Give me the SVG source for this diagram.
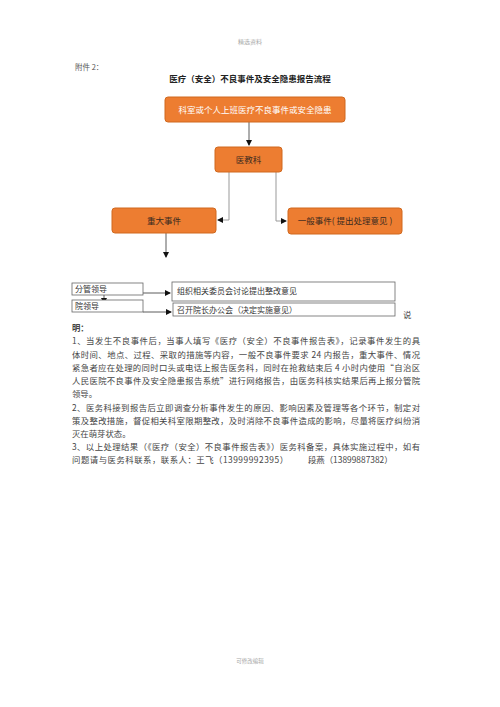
<svg xmlns="http://www.w3.org/2000/svg" width="500" height="707" viewBox="0 0 500 707">
<style>
.sans{font-family:"Noto Sans CJK SC","Liberation Sans",sans-serif;}
.box{fill:#ED7D31;stroke:#D0691F;stroke-width:1;}
.wbox{fill:#fff;stroke:#666;stroke-width:0.8;}
.bt{font-size:8.5px;fill:#3a2a1f;text-anchor:middle;}
.wt{font-size:8.5px;fill:#fff;text-anchor:middle;}
.lt{font-size:8px;fill:#333;}
.body{font-size:8.4px;fill:#444;}
.conn{fill:none;stroke:#999;stroke-width:1;}
.connk{fill:none;stroke:#333;stroke-width:0.8;}
</style>
<defs>
<marker id="ah" markerWidth="6" markerHeight="6" refX="5" refY="3" orient="auto" markerUnits="userSpaceOnUse">
<path d="M0,0 L6,3 L0,6 z" fill="#111"/>
</marker>
</defs>
<rect width="500" height="707" fill="#fff"/>
<text class="sans" x="250" y="44" font-size="6" fill="#aaa" text-anchor="middle">精选资料</text>
<text class="sans" x="75" y="70" font-size="7.5" fill="#555">附件 2：</text>
<text class="sans" x="250" y="82" font-size="8.5" font-weight="bold" fill="#222" text-anchor="middle">医疗（安全）不良事件及安全隐患报告流程</text>

<g id="connectors">
<path class="connk" d="M249,122 L249,145" marker-end="url(#ah)"/>
<path class="conn" d="M229,172 L229,220 L218,220" marker-end="url(#ah)"/>
<path class="conn" d="M276,172 L276,221 L286,221" marker-end="url(#ah)"/>
<path class="connk" d="M166,233 L166,257" marker-end="url(#ah)"/>
<path class="connk" d="M104,289 L104,303" marker-end="url(#ah)"/>
<path class="connk" d="M143,293 L170,293" marker-end="url(#ah)"/>
<path class="connk" d="M143,312 L171,312" marker-end="url(#ah)"/>
</g>

<g id="n-top">
<rect class="box" x="165" y="97" width="180" height="25" rx="3"/>
<text class="sans wt" x="255" y="112.5">科室或个人上班医疗不良事件或安全隐患</text>
</g>
<g id="n-yjk">
<rect class="box" x="215" y="147" width="67" height="25" rx="3"/>
<text class="sans bt" x="248.5" y="162.5">医教科</text>
</g>
<g id="n-major">
<rect class="box" x="112" y="208" width="104" height="25" rx="3"/>
<text class="sans bt" x="164" y="223.5">重大事件</text>
</g>
<g id="n-general">
<rect class="box" x="288" y="208" width="114" height="26" rx="3"/>
<text class="sans bt" x="345" y="224">一般事件( 提出处理意见 )</text>
</g>
<g id="n-fg">
<rect class="wbox" x="72" y="283" width="71" height="12"/>
<text class="sans lt" x="75" y="292">分管领导</text>
</g>
<g id="n-yl">
<rect class="wbox" x="72" y="300" width="71" height="12"/>
<text class="sans lt" x="75" y="309">院领导</text>
</g>
<g id="n-zz">
<rect class="wbox" x="172" y="282" width="223" height="19"/>
<text class="sans lt" x="177" y="294">组织相关委员会讨论提出整改意见</text>
</g>
<g id="n-zk">
<rect class="wbox" x="173" y="303" width="222" height="13"/>
<text class="sans lt" x="177" y="313">召开院长办公会（决定实施意见）</text>
</g>

<text class="sans body" x="403" y="318">说</text>
<text class="sans body" x="72" y="331" font-weight="bold" fill="#222">明：</text>
<text class="sans body" x="72" y="344" textLength="348" lengthAdjust="spacing">1、当发生不良事件后，当事人填写《医疗（安全）不良事件报告表》，记录事件发生的具</text>
<text class="sans body" x="72" y="357.5" textLength="348" lengthAdjust="spacing">体时间、地点、过程、采取的措施等内容，一般不良事件要求 24 内报告，重大事件、情况</text>
<text class="sans body" x="72" y="370.8" textLength="348" lengthAdjust="spacing">紧急者应在处理的同时口头或电话上报告医务科，同时在抢救结束后 4 小时内使用“自治区</text>
<text class="sans body" x="72" y="384" textLength="348" lengthAdjust="spacing">人民医院不良事件及安全隐患报告系统”进行网络报告，由医务科核实结果后再上报分管院</text>
<text class="sans body" x="72" y="397.3">领导。</text>
<text class="sans body" x="72" y="410.5" textLength="348" lengthAdjust="spacing">2、医务科接到报告后立即调查分析事件发生的原因、影响因素及管理等各个环节，制定对</text>
<text class="sans body" x="72" y="423.7" textLength="348" lengthAdjust="spacing">策及整改措施，督促相关科室限期整改，及时消除不良事件造成的影响，尽量将医疗纠纷消</text>
<text class="sans body" x="72" y="436.9">灭在萌芽状态。</text>
<text class="sans body" x="72" y="450.1" textLength="348" lengthAdjust="spacing">3、以上处理结果（《医疗（安全）不良事件报告表》）医务科备案，具体实施过程中，如有</text>
<text class="sans body" x="72" y="463.3" textLength="216" lengthAdjust="spacing">问题请与医务科联系，联系人：王飞（13999992395）</text>
<text class="sans body" x="308" y="463.3">段燕（13899887382）</text>

<text class="sans" x="250" y="663" font-size="5.5" fill="#aaa" text-anchor="middle">可修改编辑</text>
</svg>
